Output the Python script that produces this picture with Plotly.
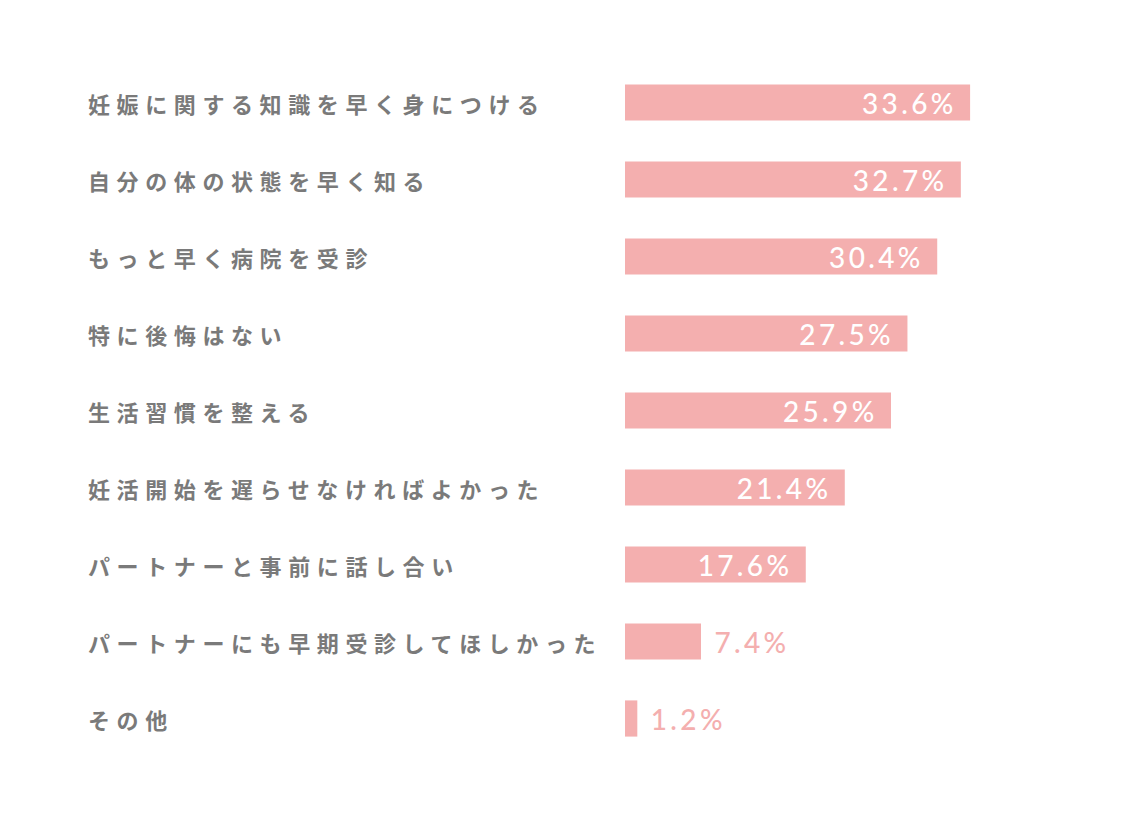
import plotly.graph_objects as go

# 妊活で後悔していること（複数回答）
labels = [
    '妊娠に関する知識を早く身につける',
    '自分の体の状態を早く知る',
    'もっと早く病院を受診',
    '特に後悔はない',
    '生活習慣を整える',
    '妊活開始を遅らせなければよかった',
    'パートナーと事前に話し合い',
    'パートナーにも早期受診してほしかった',
    'その他',
]
values = [33.6, 32.7, 30.4, 27.5, 25.9, 21.4, 17.6, 7.4, 1.2]

pink = '#f4afaf'
grey = '#7a7a7a'

# big bars carry the number inside, the two short ones outside
text_pos = ['inside' if v > 10 else 'outside' for v in values]
templates = [
    '<span style="letter-spacing:0.12em">%{x}%\u00a0</span>' if p == 'inside'
    else '<span style="letter-spacing:0.12em">\u00a0%{x}%</span>'
    for p in text_pos
]

fig = go.Figure(go.Bar(
    x=values,
    y=labels,
    orientation='h',
    marker=dict(color=pink, line=dict(width=0)),
    text=values,
    texttemplate=templates,
    textposition=text_pos,
    insidetextanchor='end',
    insidetextfont=dict(family='Lato, Noto Sans, sans-serif', size=28, color='white', weight=500),
    outsidetextfont=dict(family='Lato, Noto Sans, sans-serif', size=28, color=pink, weight=500),
    constraintext='none',
    cliponaxis=False,
    hoverinfo='skip',
))

# left aligned row labels
for lab in labels:
    fig.add_annotation(
        x=78 / 1148, xref='paper', xanchor='left',
        y=lab, yref='y', yanchor='middle',
        text='<span style="letter-spacing:0.3em">' + lab + '</span>',
        showarrow=False,
        font=dict(family='Noto Sans CJK JP', size=22, color=grey, weight='bold'),
    )

# page body has an 8px margin, so everything is nudged up/left by 8px
fig.update_layout(
    width=1148,
    height=820,
    margin=dict(t=56, l=0, r=0, b=71),
    plot_bgcolor='white',
    paper_bgcolor='white',
    bargap=0.53,
    showlegend=False,
    xaxis=dict(domain=[617 / 1148, 1], range=[0, 51.7], visible=False, fixedrange=True),
    yaxis=dict(autorange='reversed', visible=False, fixedrange=True),
)

fig.write_html('out.html')
